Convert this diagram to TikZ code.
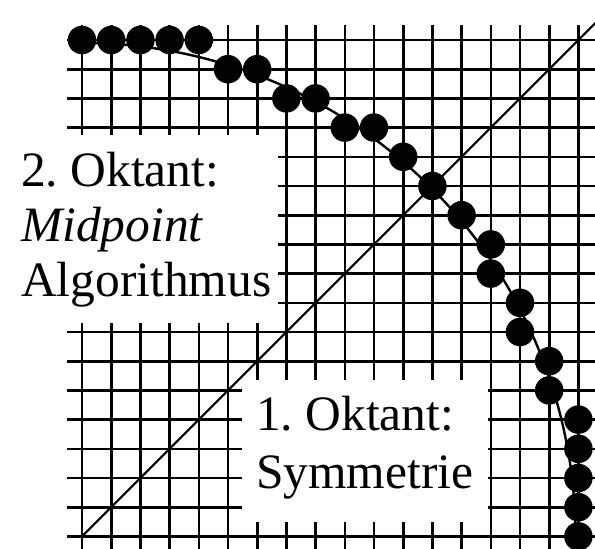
\documentclass[tikz,border=0pt]{standalone}
\usepackage{fontspec}
\setmainfont{Liberation Serif}
\frenchspacing
\begin{document}
\begin{tikzpicture}[x=1pt,y=-1pt,
  gridline/.style={line width=2.6pt,black},
  diagline/.style={line width=2pt,black},
  arcline/.style={line width=2.4pt,black},
  dot/.style={circle,fill=black,inner sep=0pt,minimum size=28.5pt},
  mask/.style={fill=white},
  lbl/.style={anchor=base west,inner sep=0pt,font=\fontsize{49.5}{55}\selectfont}]
\useasboundingbox (0,0) rectangle (595,549);
\begin{scope}
\clip (0,0) rectangle (595,549);
% grid
\foreach \i in {0,...,17}{
  \draw[gridline] ({82+29.2*\i},25) -- ({82+29.2*\i},560);
  \draw[gridline] (67,{40+29.2*\i}) -- (610,{40+29.2*\i});
}
% white areas behind the labels
\fill[mask] (-5,135) rectangle (278,323);
\fill[mask] (242,380) rectangle (488,522);
% diagonal
\coordinate (o) at (82,536.4);
\coordinate (e) at (600,18.4);
\draw[diagline] (o) -- (e);
% circle arc
\draw[arcline] plot[domain=0:90,samples=80,smooth] ({82+493.5*cos(\x)},{536.4-493.5*sin(\x)});
% dots
\foreach \c/\r [count=\k] in {0/0,1/0,2/0,3/0,4/0,5/1,6/1,7/2,8/2,9/3,10/3,11/4,12/5,13/6,14/7,14/8,15/9,15/10,16/11,16/12,17/13,17/14,17/15,17/16,17/17}{
  \node[dot] (d\k) at ({82+29.2*\c},{40+29.2*\r}) {};
}
\end{scope}
% labels
\node[lbl] (t1) at (21,186.7) {2. Oktant:};
\node[lbl] (t2) at (21,241.7) {\itshape Midpoint};
\node[lbl] (t3) at (21,296.7) {Algorithmus};
\node[lbl] (t4) at (256,430) {1. Oktant:};
\node[lbl] (t5) at (256,488.5) {Symmetrie};
\end{tikzpicture}
\end{document}
